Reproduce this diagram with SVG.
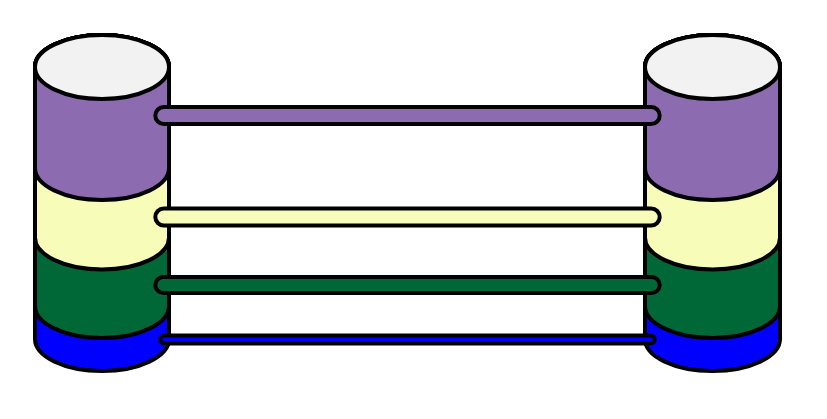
<svg xmlns="http://www.w3.org/2000/svg" width="827" height="419" viewBox="0 0 827 419">
  <style>
    .s { stroke: #000; stroke-width: 4; stroke-linejoin: round; }
    .top { fill: #f2f2f2; }
    .purple { fill: #8c6bb1; }
    .yellow { fill: #f7fcb9; }
    .green { fill: #006837; }
    .blue { fill: #0000ff; }
  </style>
  <rect width="827" height="419" fill="#ffffff"/>
  <g id="cylinder-left">
    <path class="s blue" d="M35,67 V339 A67,32 0 0 0 169,339 V67 A67,32 0 0 0 35,67 Z"/>
    <path class="s green" d="M35,67 V306 A67,32 0 0 0 169,306 V67 A67,32 0 0 0 35,67 Z"/>
    <path class="s yellow" d="M35,67 V237.5 A67,32 0 0 0 169,237.5 V67 A67,32 0 0 0 35,67 Z"/>
    <path class="s purple" d="M35,67 V168 A67,32 0 0 0 169,168 V67 A67,32 0 0 0 35,67 Z"/>
    <ellipse class="s top" cx="102" cy="67" rx="67" ry="32"/>
  </g>
  <g id="cylinder-right">
    <path class="s blue" d="M645,67 V339 A67.5,32 0 0 0 780,339 V67 A67.5,32 0 0 0 645,67 Z"/>
    <path class="s green" d="M645,67 V306 A67.5,32 0 0 0 780,306 V67 A67.5,32 0 0 0 645,67 Z"/>
    <path class="s yellow" d="M645,67 V237.5 A67.5,32 0 0 0 780,237.5 V67 A67.5,32 0 0 0 645,67 Z"/>
    <path class="s purple" d="M645,67 V168 A67.5,32 0 0 0 780,168 V67 A67.5,32 0 0 0 645,67 Z"/>
    <ellipse class="s top" cx="712.5" cy="67" rx="67.5" ry="32"/>
  </g>
  <g id="connectors">
    <rect class="s purple" x="155.3" y="107" width="504.4" height="17" rx="8.5"/>
    <rect class="s yellow" x="155.3" y="208.5" width="504.4" height="17" rx="8.5"/>
    <rect class="s green" x="155.3" y="277" width="504.4" height="16" rx="8"/>
    <rect class="s blue" x="160.3" y="335.5" width="494.4" height="8" rx="4"/>
  </g>
</svg>
